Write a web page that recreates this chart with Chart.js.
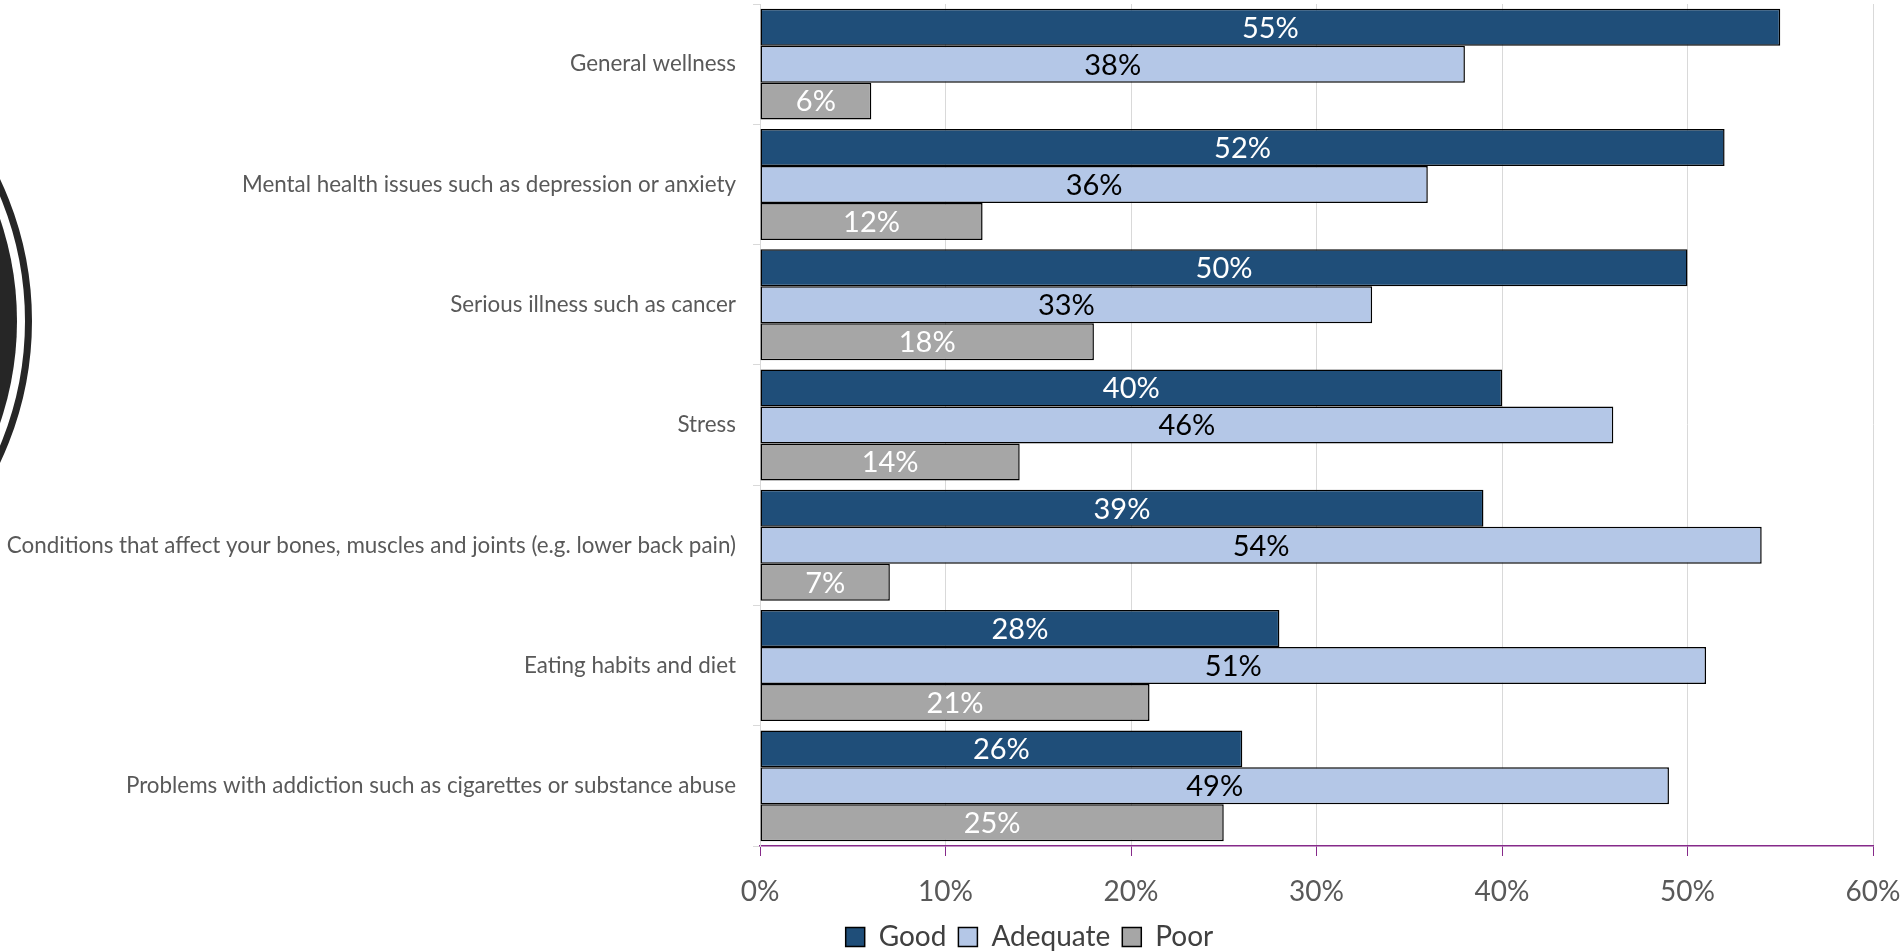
<!DOCTYPE html>
<html>
<head>
<meta charset="utf-8">
<script src="https://cdn.jsdelivr.net/npm/chart.js@4/dist/chart.umd.min.js"></script>
<style>
  html, body { margin: 0; padding: 0; background: #ffffff; }
  #wrap { width: 1903px; height: 951px; position: relative; }
</style>
</head>
<body>
<div id="wrap"><canvas id="c"></canvas></div>
<script>
const categories = [
  "General wellness",
  "Mental health issues such as depression or anxiety",
  "Serious illness such as cancer",
  "Stress",
  "Conditions that affect your bones, muscles and joints (e.g. lower back pain)",
  "Eating habits and diet",
  "Problems with addiction such as cigarettes or substance abuse"
];
const seriesNames = ["Good", "Adequate", "Poor"];
const good =     [55, 52, 50, 40, 39, 28, 26];
const adequate = [38, 36, 33, 46, 54, 51, 49];
const poor =     [6, 12, 18, 14, 7, 21, 25];
const xTicks = [0, 10, 20, 30, 40, 50, 60];

const fills = ["#1F4E79", "#B4C7E7", "#A6A6A6"];
const labelColors = ["#FFFFFF", "#000000", "#FFFFFF"];
const FONT = "Lato, 'Open Sans', sans-serif";

const ringPlugin = {
  id: 'ring',
  beforeDraw(chart) {
    const ctx = chart.ctx;
    ctx.save();
    const cx = -299, cy = 321;
    ctx.fillStyle = '#262626';
    ctx.beginPath();
    ctx.arc(cx, cy, 316, 0, Math.PI * 2);
    ctx.fill();
    ctx.strokeStyle = '#262626';
    ctx.lineWidth = 7;
    ctx.beginPath();
    ctx.arc(cx, cy, 327.5, 0, Math.PI * 2);
    ctx.stroke();
    ctx.restore();
  }
};

const valueLabels = {
  id: 'valueLabels',
  afterDatasetsDraw(chart) {
    const ctx = chart.ctx;
    ctx.save();
    ctx.font = "29px " + FONT;
    ctx.textAlign = 'center';
    ctx.textBaseline = 'middle';
    chart.data.datasets.forEach((ds, di) => {
      const meta = chart.getDatasetMeta(di);
      meta.data.forEach((bar, i) => {
        const p = bar.getProps(['x', 'y', 'base'], true);
        ctx.fillStyle = labelColors[di];
        ctx.fillText(ds.data[i] + '%', (p.x + p.base) / 2, p.y + 1);
      });
    });
    ctx.restore();
  }
};

const shiftLegend = {
  id: 'shiftLegend',
  afterLayout(chart) {
    const lg = chart.legend;
    if (lg) { lg.left += 93; lg.right += 93; lg.top += 2; lg.bottom += 2; }
  }
};

new Chart(document.getElementById('c'), {
  type: 'bar',
  data: {
    labels: categories,
    datasets: [good, adequate, poor].map((d, i) => ({
      label: seriesNames[i],
      data: d,
      backgroundColor: fills[i],
      borderColor: '#000000',
      borderWidth: 1.5,
      borderSkipped: false,
      barPercentage: 1.0,
      categoryPercentage: 0.922
    }))
  },
  options: {
    indexAxis: 'y',
    responsive: true,
    maintainAspectRatio: false,
    animation: false,
    layout: { padding: { left: 0, right: 30, top: 4, bottom: -8 } },
    plugins: {
      legend: {
        position: 'bottom',
        labels: {
          font: { family: FONT, size: 28 },
          color: '#404040',
          boxWidth: 19,
          boxHeight: 19,
          padding: 12
        }
      },
      tooltip: { enabled: false }
    },
    scales: {
      x: {
        min: 0, max: 60,
        afterBuildTicks(scale) { scale.ticks = xTicks.map(v => ({ value: v })); },
        afterFit(scale) { scale.height = 63; scale.paddingLeft = 0; scale.paddingRight = 0; },
        ticks: {
          callback: v => v + '%',
          font: { family: FONT, size: 28 },
          color: '#595959',
          padding: 19
        },
        grid: { color: '#D9D9D9', tickColor: '#862A8A', tickLength: 10, lineWidth: 1 },
        border: { color: '#862A8A', width: 1.5 }
      },
      y: {
        afterFit(scale) { scale.width = 760; scale.paddingTop = 0; scale.paddingBottom = 0; },
        ticks: {
          font: { family: FONT, size: 22.4 },
          color: '#595959',
          padding: 17
        },
        grid: { drawOnChartArea: false, drawTicks: true, tickLength: 7, color: '#D9D9D9', offset: true },
        border: { color: '#D9D9D9', width: 1 }
      }
    }
  },
  plugins: [ringPlugin, valueLabels, shiftLegend]
});
</script>
</body>
</html>
